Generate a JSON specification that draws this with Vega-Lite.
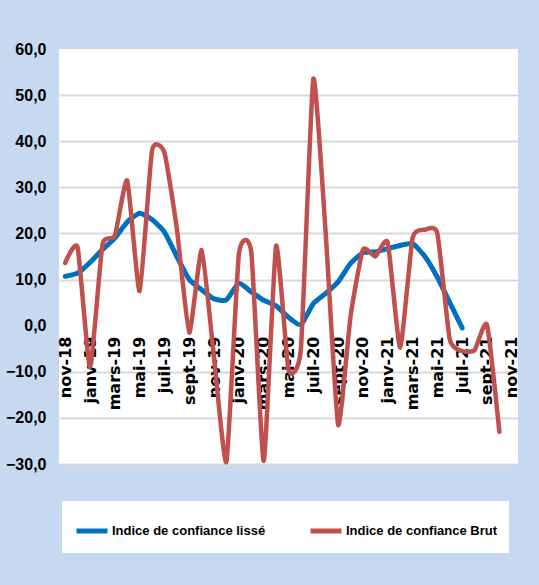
{
  "$schema": "https://vega.github.io/schema/vega-lite/v6.json",
  "width": 459,
  "height": 415,
  "autosize": "none",
  "padding": {"left": 59, "top": 49, "right": 21, "bottom": 121},
  "background": "#c6d9f0",
  "view": {"fill": "white", "stroke": null},
  "data": {"values": [
    {"mois": "nov-18", "serie": "Indice de confiance lissé", "valeur": 10.7},
    {"mois": "déc-18", "serie": "Indice de confiance lissé", "valeur": 11.4},
    {"mois": "janv-19", "serie": "Indice de confiance lissé", "valeur": 13.7},
    {"mois": "févr-19", "serie": "Indice de confiance lissé", "valeur": 16.5},
    {"mois": "mars-19", "serie": "Indice de confiance lissé", "valeur": 19},
    {"mois": "avr-19", "serie": "Indice de confiance lissé", "valeur": 22.5},
    {"mois": "mai-19", "serie": "Indice de confiance lissé", "valeur": 24.4},
    {"mois": "juin-19", "serie": "Indice de confiance lissé", "valeur": 23},
    {"mois": "juil-19", "serie": "Indice de confiance lissé", "valeur": 20.3},
    {"mois": "août-19", "serie": "Indice de confiance lissé", "valeur": 15},
    {"mois": "sept-19", "serie": "Indice de confiance lissé", "valeur": 10},
    {"mois": "oct-19", "serie": "Indice de confiance lissé", "valeur": 7.8},
    {"mois": "nov-19", "serie": "Indice de confiance lissé", "valeur": 5.8},
    {"mois": "déc-19", "serie": "Indice de confiance lissé", "valeur": 5.6},
    {"mois": "janv-20", "serie": "Indice de confiance lissé", "valeur": 9.2},
    {"mois": "févr-20", "serie": "Indice de confiance lissé", "valeur": 7.3},
    {"mois": "mars-20", "serie": "Indice de confiance lissé", "valeur": 5.5},
    {"mois": "avr-20", "serie": "Indice de confiance lissé", "valeur": 4.3},
    {"mois": "mai-20", "serie": "Indice de confiance lissé", "valeur": 1.8},
    {"mois": "juin-20", "serie": "Indice de confiance lissé", "valeur": 0.2},
    {"mois": "juil-20", "serie": "Indice de confiance lissé", "valeur": 4.8},
    {"mois": "août-20", "serie": "Indice de confiance lissé", "valeur": 7},
    {"mois": "sept-20", "serie": "Indice de confiance lissé", "valeur": 9.5},
    {"mois": "oct-20", "serie": "Indice de confiance lissé", "valeur": 13.5},
    {"mois": "nov-20", "serie": "Indice de confiance lissé", "valeur": 15.8},
    {"mois": "déc-20", "serie": "Indice de confiance lissé", "valeur": 16},
    {"mois": "janv-21", "serie": "Indice de confiance lissé", "valeur": 16.7},
    {"mois": "févr-21", "serie": "Indice de confiance lissé", "valeur": 17.4},
    {"mois": "mars-21", "serie": "Indice de confiance lissé", "valeur": 17.8},
    {"mois": "avr-21", "serie": "Indice de confiance lissé", "valeur": 15},
    {"mois": "mai-21", "serie": "Indice de confiance lissé", "valeur": 10.5},
    {"mois": "juin-21", "serie": "Indice de confiance lissé", "valeur": 5},
    {"mois": "juil-21", "serie": "Indice de confiance lissé", "valeur": -0.5},
    {"mois": "nov-18", "serie": "Indice de confiance Brut", "valeur": 13.6},
    {"mois": "déc-18", "serie": "Indice de confiance Brut", "valeur": 17},
    {"mois": "janv-19", "serie": "Indice de confiance Brut", "valeur": -9},
    {"mois": "févr-19", "serie": "Indice de confiance Brut", "valeur": 17.5},
    {"mois": "mars-19", "serie": "Indice de confiance Brut", "valeur": 19.5},
    {"mois": "avr-19", "serie": "Indice de confiance Brut", "valeur": 31.5},
    {"mois": "mai-19", "serie": "Indice de confiance Brut", "valeur": 7.5},
    {"mois": "juin-19", "serie": "Indice de confiance Brut", "valeur": 38},
    {"mois": "juil-19", "serie": "Indice de confiance Brut", "valeur": 37.5},
    {"mois": "août-19", "serie": "Indice de confiance Brut", "valeur": 21},
    {"mois": "sept-19", "serie": "Indice de confiance Brut", "valeur": -1.5},
    {"mois": "oct-19", "serie": "Indice de confiance Brut", "valeur": 16.4},
    {"mois": "nov-19", "serie": "Indice de confiance Brut", "valeur": -7},
    {"mois": "déc-19", "serie": "Indice de confiance Brut", "valeur": -29.5},
    {"mois": "janv-20", "serie": "Indice de confiance Brut", "valeur": 15.5},
    {"mois": "févr-20", "serie": "Indice de confiance Brut", "valeur": 16},
    {"mois": "mars-20", "serie": "Indice de confiance Brut", "valeur": -29.3},
    {"mois": "avr-20", "serie": "Indice de confiance Brut", "valeur": 17.3},
    {"mois": "mai-20", "serie": "Indice de confiance Brut", "valeur": -9.5},
    {"mois": "juin-20", "serie": "Indice de confiance Brut", "valeur": -5},
    {"mois": "juil-20", "serie": "Indice de confiance Brut", "valeur": 53.5},
    {"mois": "août-20", "serie": "Indice de confiance Brut", "valeur": 20},
    {"mois": "sept-20", "serie": "Indice de confiance Brut", "valeur": -21.5},
    {"mois": "oct-20", "serie": "Indice de confiance Brut", "valeur": 2},
    {"mois": "nov-20", "serie": "Indice de confiance Brut", "valeur": 16.5},
    {"mois": "déc-20", "serie": "Indice de confiance Brut", "valeur": 15},
    {"mois": "janv-21", "serie": "Indice de confiance Brut", "valeur": 18},
    {"mois": "févr-21", "serie": "Indice de confiance Brut", "valeur": -4.8},
    {"mois": "mars-21", "serie": "Indice de confiance Brut", "valeur": 19},
    {"mois": "avr-21", "serie": "Indice de confiance Brut", "valeur": 20.8},
    {"mois": "mai-21", "serie": "Indice de confiance Brut", "valeur": 20},
    {"mois": "juin-21", "serie": "Indice de confiance Brut", "valeur": -3},
    {"mois": "juil-21", "serie": "Indice de confiance Brut", "valeur": -5.5},
    {"mois": "août-21", "serie": "Indice de confiance Brut", "valeur": -5.3},
    {"mois": "sept-21", "serie": "Indice de confiance Brut", "valeur": 0.2},
    {"mois": "oct-21", "serie": "Indice de confiance Brut", "valeur": -23}
  ]},
  "encoding": {
    "x": {
      "field": "mois",
      "type": "ordinal",
      "scale": {
        "type": "point",
        "padding": 0.5,
        "domain": ["nov-18", "déc-18", "janv-19", "févr-19", "mars-19", "avr-19", "mai-19", "juin-19", "juil-19", "août-19", "sept-19", "oct-19", "nov-19", "déc-19", "janv-20", "févr-20", "mars-20", "avr-20", "mai-20", "juin-20", "juil-20", "août-20", "sept-20", "oct-20", "nov-20", "déc-20", "janv-21", "févr-21", "mars-21", "avr-21", "mai-21", "juin-21", "juil-21", "août-21", "sept-21", "oct-21", "nov-21"]
      },
      "axis": {
        "title": null,
        "values": ["nov-18", "janv-19", "mars-19", "mai-19", "juil-19", "sept-19", "nov-19", "janv-20", "mars-20", "mai-20", "juil-20", "sept-20", "nov-20", "janv-21", "mars-21", "mai-21", "juil-21", "sept-21", "nov-21"],
        "offset": -138,
        "domain": false,
        "ticks": false,
        "grid": false,
        "labelAngle": -90,
        "labelPadding": 10,
        "labelFont": "DejaVu Sans",
        "labelFontWeight": "bold",
        "labelFontSize": 16,
        "labelColor": "black",
        "labelOverlap": false
      }
    },
    "y": {
      "field": "valeur",
      "type": "quantitative",
      "scale": {"domain": [-30, 60], "nice": false, "zero": false},
      "axis": {
        "title": null,
        "values": [-30, -20, -10, 0, 10, 20, 30, 40, 50, 60],
        "labelExpr": "replace(format(datum.value, '.1f'), '.', ',')",
        "domain": false,
        "ticks": false,
        "grid": true,
        "gridColor": {"condition": {"test": "datum.value === 0 || datum.value === 60", "value": "transparent"}, "value": "#d9d9d9"},
        "gridWidth": 2,
        "labelPadding": 13,
        "labelFont": "Liberation Sans",
        "labelFontWeight": "bold",
        "labelFontSize": 16,
        "labelColor": "black"
      }
    },
    "color": {
      "field": "serie",
      "type": "nominal",
      "scale": {
        "domain": ["Indice de confiance lissé", "Indice de confiance Brut"],
        "range": ["#0070c0", "#c0504d"]
      },
      "legend": {
        "title": null,
        "orient": "none",
        "legendX": 3,
        "legendY": 452,
        "direction": "horizontal",
        "fillColor": "white",
        "padding": 12,
        "symbolType": "stroke",
        "symbolSize": 961,
        "symbolStrokeWidth": 5,
        "labelOffset": 2,
        "columnPadding": 34,
        "labelFont": "Liberation Sans",
        "labelFontWeight": "bold",
        "labelFontSize": 13,
        "labelColor": "black",
        "labelLimit": 300
      }
    }
  },
  "layer": [
    {
      "transform": [{"filter": {"field": "serie", "equal": "Indice de confiance lissé"}}],
      "mark": {"type": "line", "interpolate": "cardinal", "tension": 0.5, "strokeWidth": 5, "strokeCap": "round"}
    },
    {
      "transform": [{"filter": {"field": "serie", "equal": "Indice de confiance Brut"}}],
      "mark": {"type": "line", "interpolate": "cardinal", "tension": 0.5, "strokeWidth": 4.5, "strokeCap": "round"}
    }
  ]
}
